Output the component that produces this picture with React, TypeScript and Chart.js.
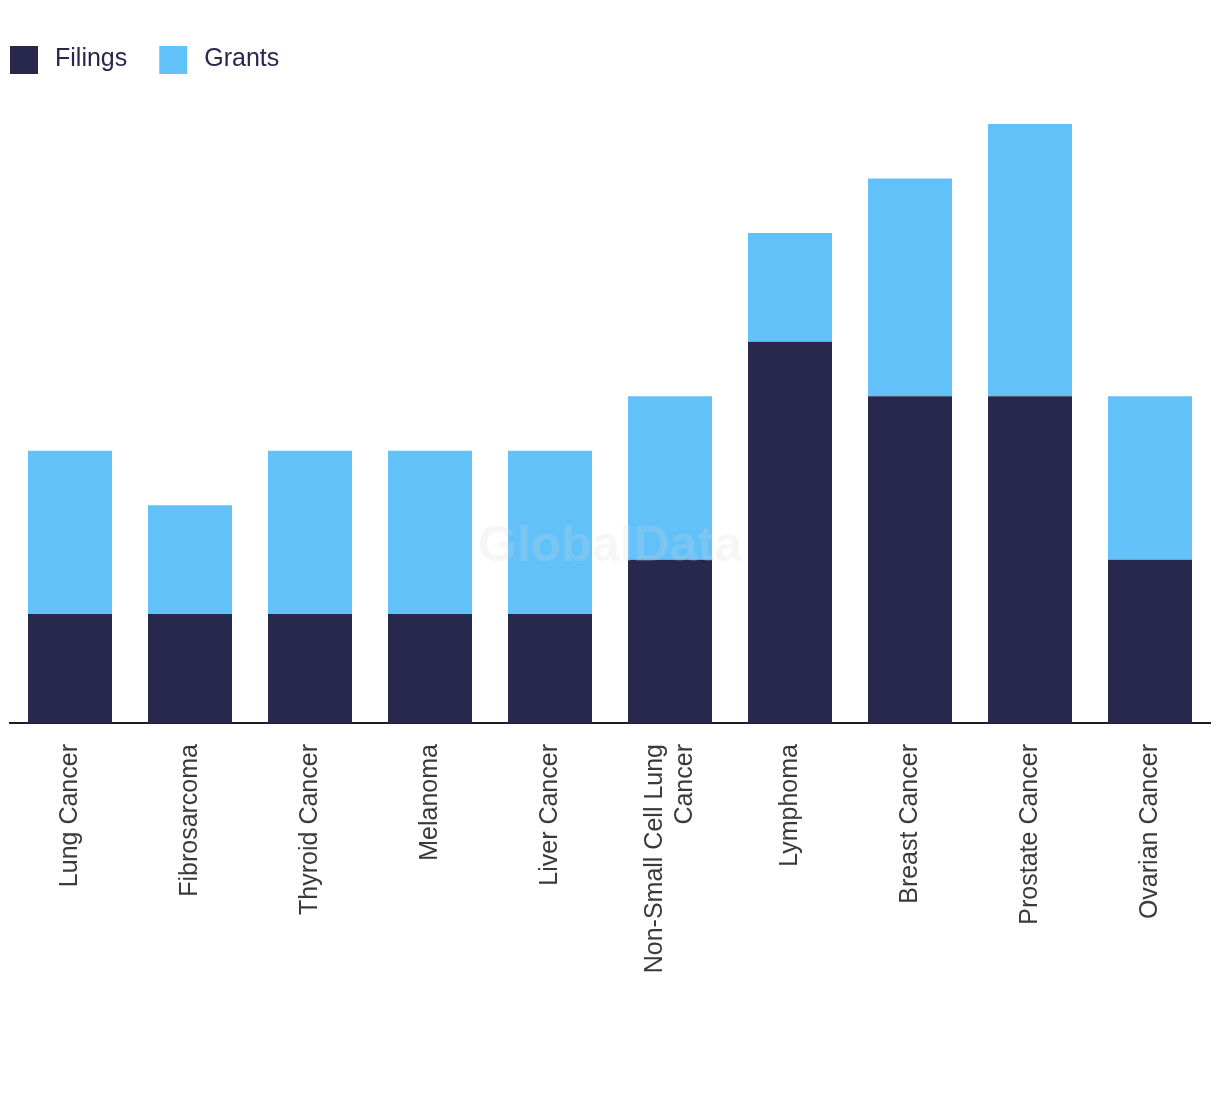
import React, { useEffect, useRef } from "react";
import { Chart, registerables } from "chart.js";

Chart.register(...registerables);

const categories: (string | string[])[] = [
  "Lung Cancer",
  "Fibrosarcoma",
  "Thyroid Cancer",
  "Melanoma",
  "Liver Cancer",
  ["Non-Small Cell Lung", "Cancer"],
  "Lymphoma",
  "Breast Cancer",
  "Prostate Cancer",
  "Ovarian Cancer",
];
const filings = [2, 2, 2, 2, 2, 3, 7, 6, 6, 3];
const grants = [3, 2, 3, 3, 3, 3, 2, 4, 5, 3];
const seriesNames = ["Filings", "Grants"];
const seriesColors = ["#27284b", "#62c1f9"];
const yMax = 11;

const W = 1220;
const H = 1094;
const LABEL_SIZE = 25;

const legendPlugin = {
  id: "customLegend",
  afterDraw(chart: any) {
    const ctx = chart.ctx;
    ctx.save();
    let x = 10;
    const y = 46;
    ctx.font = "25px 'Liberation Sans', Arial, sans-serif";
    ctx.textBaseline = "middle";
    ctx.textAlign = "left";
    chart.data.datasets.forEach((ds: any) => {
      ctx.fillStyle = ds.backgroundColor;
      ctx.fillRect(x, y, 28, 28);
      ctx.fillStyle = "#27284b";
      ctx.fillText(ds.label, x + 45, y + 13);
      const tw = ctx.measureText(ds.label).width;
      x += 45 + tw + 32;
    });
    ctx.restore();
  },
};

const centerMultilinePlugin = {
  id: "centerMultiline",
  beforeDraw(chart: any) {
    const scale = chart.scales.x;
    const items = scale.getLabelItems();
    const lh = LABEL_SIZE * 1.2;
    items.forEach((it: any) => {
      if (Array.isArray(it.label) && it.label.length > 1 && !it._centered) {
        it.options.translation[0] -= ((it.label.length - 1) * lh) / 2;
        it._centered = true;
      }
    });
  },
};

const watermarkPlugin = {
  id: "watermark",
  afterDatasetsDraw(chart: any) {
    const ctx = chart.ctx;
    ctx.save();
    ctx.font = "bold 50px 'Liberation Sans', Arial, sans-serif";
    ctx.textAlign = "center";
    ctx.textBaseline = "middle";
    ctx.fillStyle = "rgba(215,215,220,0.22)";
    ctx.fillText("GlobalData", W / 2, 547);
    ctx.restore();
  },
};

export default function App() {
  const ref = useRef<HTMLCanvasElement>(null);
  useEffect(() => {
    if (!ref.current) return;
    const chart = new Chart(ref.current, {
      type: "bar",
      data: {
        labels: categories,
        datasets: [
          {
            label: seriesNames[0],
            data: filings,
            backgroundColor: seriesColors[0],
            categoryPercentage: 1,
            barPercentage: 0.7,
          },
          {
            label: seriesNames[1],
            data: grants,
            backgroundColor: seriesColors[1],
            categoryPercentage: 1,
            barPercentage: 0.7,
          },
        ],
      },
      options: {
        animation: false,
        responsive: false,
        layout: { padding: { top: 124, left: 10, right: 10, bottom: 0 } },
        plugins: {
          legend: { display: false },
          tooltip: { enabled: false },
        },
        scales: {
          x: {
            stacked: true,
            grid: { display: false, drawTicks: false },
            border: { display: true, color: "#1c1c2c", width: 2 },
            ticks: {
              minRotation: 90,
              maxRotation: 90,
              autoSkip: false,
              padding: 21,
              color: "#3a3a3a",
              font: { family: "'Liberation Sans', Arial, sans-serif", size: LABEL_SIZE },
            },
            afterFit(scale: any) {
              scale.height = H - 723;
            },
          },
          y: {
            stacked: true,
            display: false,
            min: 0,
            max: yMax,
          },
        },
      },
      plugins: [legendPlugin, centerMultilinePlugin, watermarkPlugin],
    });
    return () => chart.destroy();
  }, []);
  return (
    <div style={{ position: "absolute", left: 0, top: 0, width: W, height: H, background: "#fff" }}>
      <canvas ref={ref} width={W} height={H} style={{ display: "block" }} />
    </div>
  );
}
